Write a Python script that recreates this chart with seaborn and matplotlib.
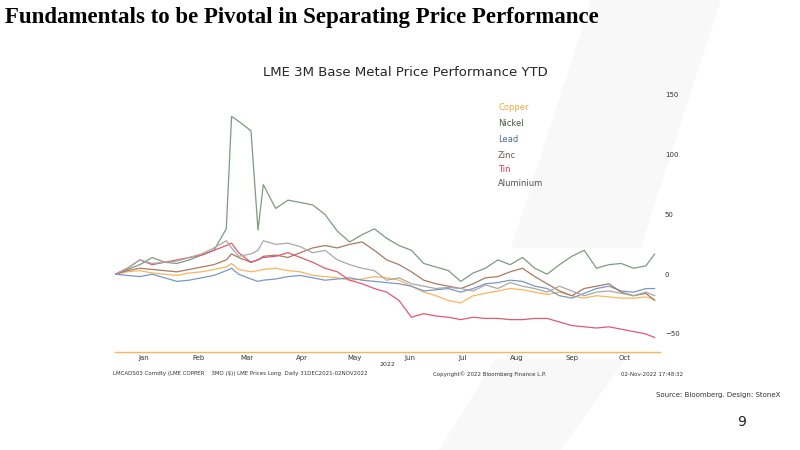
import matplotlib
matplotlib.use("Agg")
import matplotlib.pyplot as plt
import matplotlib.dates as mdates
import seaborn as sns
import pandas as pd
import numpy as np

dates = ["2021-12-31","2022-01-07","2022-01-14","2022-01-21","2022-01-28","2022-02-04","2022-02-11","2022-02-18",
         "2022-02-25","2022-03-04","2022-03-07","2022-03-11","2022-03-18","2022-03-22","2022-03-25","2022-04-01",
         "2022-04-08","2022-04-15","2022-04-22","2022-04-29","2022-05-06","2022-05-13","2022-05-20","2022-05-27",
         "2022-06-03","2022-06-10","2022-06-17","2022-06-24","2022-07-01","2022-07-08","2022-07-15","2022-07-22",
         "2022-07-29","2022-08-05","2022-08-12","2022-08-19","2022-08-26","2022-09-02","2022-09-09","2022-09-16",
         "2022-09-23","2022-09-30","2022-10-07","2022-10-14","2022-10-21","2022-10-28","2022-11-02"]
nickel = [0,4,8,14,10,9,12,16,20,38,132,128,120,37,75,55,62,60,58,50,36,27,33,38,30,24,20,9,6,3,-6,1,5,12,8,14,5,0,8,15,20,5,8,9,5,7,17]
aluminium = [0,5,12,9,10,11,14,17,22,28,22,15,17,20,28,25,26,23,18,20,12,8,5,3,-5,-3,-8,-10,-12,-11,-12,-14,-9,-12,-7,-10,-12,-15,-10,-14,-18,-15,-14,-16,-18,-15,-18]
tin = [0,5,12,8,10,12,14,16,20,24,26,18,10,12,14,15,18,14,10,5,2,-5,-8,-12,-15,-22,-36,-33,-35,-36,-38,-36,-37,-37,-38,-38,-37,-37,-40,-43,-44,-45,-44,-46,-48,-50,-53]
zinc = [0,3,5,4,3,2,4,6,8,12,17,14,10,12,15,16,14,18,22,24,22,25,27,20,12,8,2,-5,-8,-10,-12,-8,-3,-2,2,5,-2,-8,-14,-18,-12,-10,-8,-15,-18,-16,-22]
copper = [0,2,3,1,0,-1,1,2,4,6,9,4,2,3,4,5,3,2,-1,-2,-3,-5,-4,-2,-3,-5,-10,-15,-18,-22,-24,-18,-16,-14,-12,-13,-15,-17,-15,-18,-20,-18,-19,-20,-20,-19,-21]
lead = [0,-1,-2,0,-3,-6,-5,-3,-1,3,5,0,-4,-6,-5,-4,-2,-1,-3,-5,-4,-3,-5,-6,-7,-8,-10,-14,-13,-12,-15,-12,-8,-7,-5,-6,-10,-12,-18,-20,-16,-12,-10,-14,-15,-12,-12]

series = {"Copper": copper, "Nickel": nickel, "Lead": lead, "Zinc": zinc, "Tin": tin, "Aluminium": aluminium}
colors = {"Copper": "#F9B55C", "Nickel": "#7E9A80", "Lead": "#7C97C4", "Zinc": "#A87A62", "Tin": "#DF5A70", "Aluminium": "#A8A8A8"}
label_colors = {"Copper": "#F7A540", "Nickel": "#4A5A40", "Lead": "#4A6A9A", "Zinc": "#6A5A50", "Tin": "#F03050", "Aluminium": "#505050"}

rows = []
for name, vals in series.items():
    for d, v in zip(dates, vals):
        rows.append({"date": pd.Timestamp(d), "value": v, "metal": name})
df = pd.DataFrame(rows)

sns.set_style("white")
fig = plt.figure(figsize=(8, 4.5), dpi=100)
fig.patch.set_facecolor("white")

# faint watermark
fig.patches.append(plt.Polygon([[0.74, 1.0], [0.90, 1.0], [0.80, 0.45], [0.64, 0.45]], closed=True,
                               transform=fig.transFigure, color="#F8F8F8", zorder=-10))
fig.patches.append(plt.Polygon([[0.62, 0.20], [0.78, 0.20], [0.70, 0.0], [0.55, 0.0]], closed=True,
                               transform=fig.transFigure, color="#F8F8F8", zorder=-10))

ax = fig.add_axes([0.144, 0.218, 0.681, 0.571])
ax.patch.set_alpha(0)
sns.lineplot(data=df, x="date", y="value", hue="metal", palette=colors, linewidth=0.9, ax=ax, legend=False)

ax.set_xlim(pd.Timestamp("2021-12-31"), pd.Timestamp("2022-11-05"))
ax.set_ylim(-65, 150)
ax.yaxis.tick_right()
ax.set_yticks([-50, 0, 50, 100, 150])
ax.tick_params(axis="y", labelsize=5, length=0, colors="#333333")
ax.set_xlabel("")
ax.set_ylabel("")
for s in ["top", "left", "right"]:
    ax.spines[s].set_visible(False)
ax.spines["bottom"].set_color("#F9B55C")
ax.spines["bottom"].set_linewidth(1.0)

ax.xaxis.set_major_locator(mdates.MonthLocator())
ax.xaxis.set_major_formatter(plt.NullFormatter())
ax.xaxis.set_minor_locator(mdates.MonthLocator(bymonthday=16))
ax.xaxis.set_minor_formatter(mdates.DateFormatter("%b"))
ax.tick_params(axis="x", which="major", length=2, color="#BBBBBB")
ax.tick_params(axis="x", which="minor", length=0, labelsize=5, colors="#333333", pad=2)
fig.text(0.5 * (115 + 660) / 800, 1 - 364 / 450, "2022", ha="center", va="center", fontsize=4.5, color="#333333")

legend_y = [108, 124, 139, 155, 170, 184]
for (name, _), y in zip(series.items(), legend_y):
    fig.text(498/800, 1 - y/450, name, fontsize=6, color=label_colors[name], va="center", ha="left")

fig.text(5/800, 1 - 18/450, "Fundamentals to be Pivotal in Separating Price Performance",
         fontsize=16.5, fontweight="bold", family="Liberation Serif", va="center", ha="left", color="black")
fig.text(405/800, 1 - 72/450, "LME 3M Base Metal Price Performance YTD", fontsize=9.5, ha="center", va="center")
fig.text(113/800, 1 - 374/450, "LMCADS03 Comdty (LME COPPER    3MO ($)) LME Prices Long  Daily 31DEC2021-02NOV2022",
         fontsize=4, va="center", ha="left", color="#333333")
fig.text(433/800, 1 - 374/450, "Copyright\u00a9 2022 Bloomberg Finance L.P.", fontsize=4, va="center", ha="left", color="#333333")
fig.text(683/800, 1 - 374/450, "02-Nov-2022 17:48:32", fontsize=4, va="center", ha="right", color="#333333")
fig.text(780/800, 1 - 395/450, "Source: Bloomberg. Design: StoneX", fontsize=5, va="center", ha="right", color="#333333")
fig.text(742/800, 1 - 422/450, "9", fontsize=10, va="center", ha="center", color="#222222")

fig.savefig("out.png", dpi=100, facecolor="white")
